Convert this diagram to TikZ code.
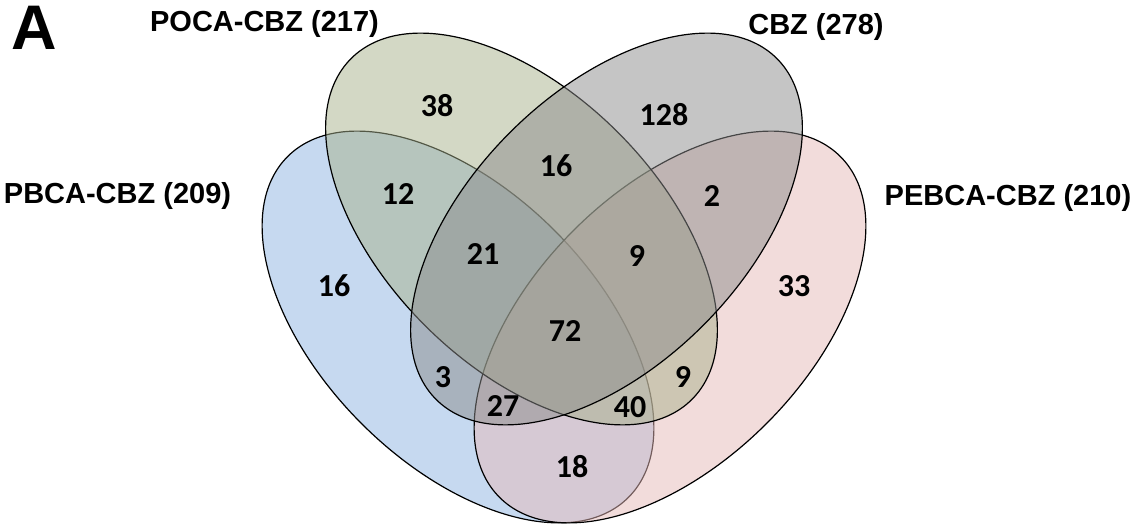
\documentclass[tikz,border=0pt]{standalone}
\usepackage{fontspec}
\setmainfont{Liberation Sans}
\newfontfamily\countfont{Carlito}
\definecolor{pbcacol}{RGB}{141,180,226}
\definecolor{pebcacol}{RGB}{230,185,184}
\definecolor{pocacol}{RGB}{167,177,140}
\definecolor{cbzcol}{RGB}{140,140,140}
\begin{document}
\begin{tikzpicture}[x=1pt,y=1pt,
  setshape/.style={fill=#1, fill opacity=0.5, draw=black, line width=1.2pt},
  setname/.style={font=\bfseries\fontsize{29}{29}\selectfont, inner sep=0pt, anchor=base},
  count/.style={font=\countfont\bfseries\fontsize{32}{32}\selectfont, inner sep=0pt}]
\useasboundingbox (0,0) rectangle (1138,524);
% the four sets, lower pair first, then the upper pair
\path[setshape=pbcacol, shift={(458,197)}, rotate=-45] (0,0) ellipse [x radius=241pt, y radius=136.5pt];
\path[setshape=pebcacol, shift={(670,197)}, rotate=45] (0,0) ellipse [x radius=241pt, y radius=136.5pt];
\path[setshape=pocacol, shift={(521.5,295)}, rotate=-45] (0,0) ellipse [x radius=241pt, y radius=136.5pt];
\path[setshape=cbzcol, shift={(606.5,295)}, rotate=45] (0,0) ellipse [x radius=241pt, y radius=136.5pt];
% panel letter and set names
\node[font=\bfseries\fontsize{63}{63}\selectfont, inner sep=0pt, anchor=base] (panel) at (34,474) {A};
\node[setname] (poca) at (264.5,492) {POCA-CBZ (217)};
\node[setname] (cbz) at (816,489) {CBZ (278)};
\node[setname] (pbca) at (117.5,320) {PBCA-CBZ (209)};
\node[setname] (pebca) at (1008,318) {PEBCA-CBZ (210)};
% region counts
\node[count] (n38) at (437,418) {38};
\node[count] (n128) at (664,409) {128};
\node[count] (n16a) at (556,358) {16};
\node[count] (n12) at (398,330) {12};
\node[count] (n2) at (712,328) {2};
\node[count] (n21) at (483,270) {21};
\node[count] (n9a) at (637,268) {9};
\node[count] (n16b) at (334,238) {16};
\node[count] (n33) at (794,238) {33};
\node[count] (n72) at (565,193) {72};
\node[count] (n3) at (443,147) {3};
\node[count] (n9b) at (683,147) {9};
\node[count] (n27) at (503,118) {27};
\node[count] (n40) at (630,117) {40};
\node[count] (n18) at (572,57) {18};
\end{tikzpicture}
\end{document}
